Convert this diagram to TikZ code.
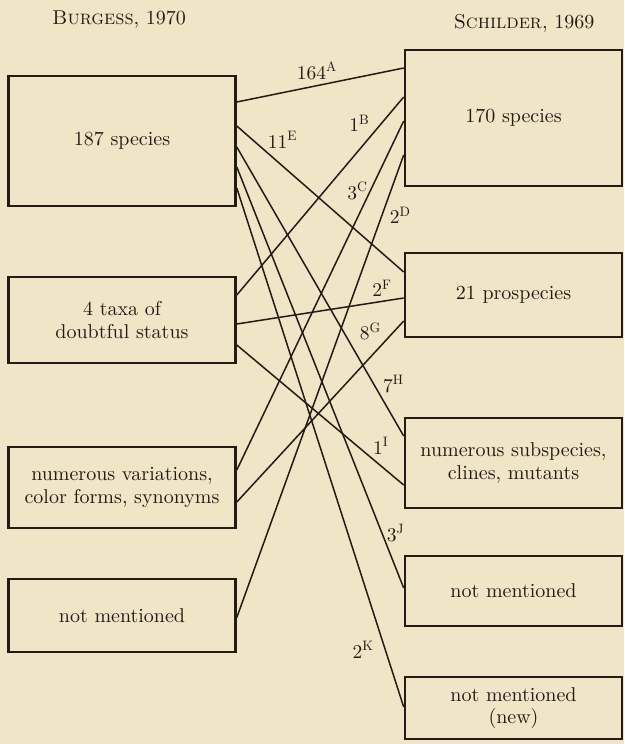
\documentclass[tikz,border=0pt]{standalone}
\usepackage{fontspec}
\setmainfont{lmroman10-regular.otf}[SmallCapsFont=lmromancaps10-regular.otf]
\usepackage{tikz}
\usetikzlibrary{positioning}
\definecolor{paper}{RGB}{240,229,199}
\definecolor{ink}{RGB}{34,27,22}

\begin{document}
\begin{tikzpicture}[x=1pt, y=-1pt,
    box/.style={rectangle, draw=ink, line width=2.6pt, minimum height=#1, inner sep=2pt, align=center, text=ink, font=\fontsize{20}{22.5}\selectfont},
    lbox/.style={box=#1, minimum width=227pt},
    rbox/.style={box=#1, minimum width=217pt},
    link/.style={draw=ink, line width=1.5pt},
    tag/.style={font=\fontsize{19.5}{22}\selectfont, text=ink, inner sep=2pt},
    head/.style={font=\fontsize{20}{22}\selectfont, text=ink}
]
\useasboundingbox (0,0) rectangle (624,744);
\fill[paper] (0,0) rectangle (624,744);

% column headings
\node[head] (hl) at (119,20) {\textsc{Burgess}, 1970};
\node[head] (hr) at (524,23) {\textsc{Schilder}, 1969};

% left column
\node[lbox=130pt] (l1) at (122,141) {187 species};
\node[lbox=86pt] (l2) at (122,320) {4 taxa of\\doubtful status};
\node[lbox=81pt] (l3) at (122,487.5) {numerous variations,\\color forms, synonyms};
\node[lbox=73pt] (l4) at (122,615.5) {not mentioned};

% right column
\node[rbox=136pt] (r1) at (513.5,118) {170 species};
\node[rbox=84pt] (r2) at (513.5,295) {21 prospecies};
\node[rbox=90pt] (r3) at (513.5,463) {numerous subspecies,\\clines, mutants};
\node[rbox=70pt] (r4) at (513.5,591) {not mentioned};
\node[rbox=62pt] (r5) at (513.5,708) {not mentioned\\(new)};

% correspondences
\draw[link] ([yshift=39pt]l1.east) -- node[tag, pos=0.48, above=3pt] {164\textsuperscript{A}} ([yshift=50pt]r1.west);
\draw[link] ([yshift=25pt]l2.east) -- node[tag, pos=0.81, anchor=south east] {1\textsuperscript{B}} ([yshift=21pt]r1.west);
\draw[link] ([yshift=17.5pt]l3.east) -- node[tag, pos=0.8, anchor=east] {3\textsuperscript{C}} ([yshift=-3pt]r1.west);
\draw[link] ([yshift=-2pt]l4.east) -- node[tag, pos=0.87, right=5pt] {2\textsuperscript{D}} ([yshift=-37pt]r1.west);
\draw[link] ([yshift=15pt]l1.east) -- node[tag, pos=0.17, anchor=south west] {11\textsuperscript{E}} ([yshift=23pt]r2.west);
\draw[link] ([yshift=-4pt]l2.east) -- node[tag, pos=0.87, above=2pt] {2\textsuperscript{F}} ([yshift=-3pt]r2.west);
\draw[link] ([yshift=-14.5pt]l3.east) -- node[tag, pos=0.88, anchor=south east] {8\textsuperscript{G}} ([yshift=-26pt]r2.west);
\draw[link] ([yshift=-6pt]l1.east) -- node[tag, pos=0.86, anchor=south west] {7\textsuperscript{H}} ([yshift=27pt]r3.west);
\draw[link] ([yshift=-25pt]l2.east) -- node[tag, pos=0.8, anchor=south west] {1\textsuperscript{I}} ([yshift=-22pt]r3.west);
\draw[link] ([yshift=-26pt]l1.east) -- node[tag, pos=0.87, right=2pt] {3\textsuperscript{J}} ([yshift=3pt]r4.west);
\draw[link] ([yshift=-47pt]l1.east) -- node[tag, pos=0.89, left=9pt] {2\textsuperscript{K}} ([yshift=1pt]r5.west);
\end{tikzpicture}
\end{document}
